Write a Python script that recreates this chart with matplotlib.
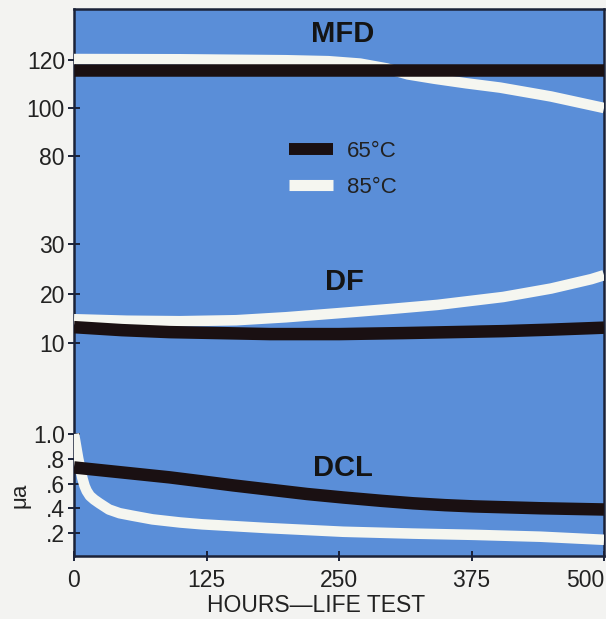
import matplotlib
matplotlib.use("Agg")
import matplotlib.pyplot as plt
from matplotlib.lines import Line2D

# ---------------- data ----------------
x_ticks = [0, 125, 250, 375, 500]
x_label = "HOURS\u2014LIFE TEST"
y_label = "\u03bca"

mfd_ticks = [80, 100, 120]
df_ticks = [10, 20, 30]
dcl_ticks = [0.2, 0.4, 0.6, 0.8, 1.0]
dcl_ticklabels = [".2", ".4", ".6", ".8", "1.0"]

mfd65_h = [0, 125, 250, 375, 500]
mfd65_v = [116, 116, 116, 116, 116]
mfd85_h = [0, 100, 200, 240, 270, 295, 315, 340, 370, 402, 450, 500]
mfd85_v = [120.4, 120.3, 119.9, 119.5, 118.5, 116.5, 114.0, 112.2, 110.3, 108.5, 104.8, 100.0]

df65_h = [0, 45, 90, 185, 250, 310, 405, 450, 488, 500]
df65_v = [13.2, 12.6, 12.2, 11.8, 11.8, 12.0, 12.4, 12.7, 13.0, 13.1]
df85_h = [0, 50, 100, 153, 200, 248, 300, 343, 405, 450, 488, 500]
df85_v = [14.8, 14.5, 14.4, 14.6, 15.2, 16.0, 16.9, 17.7, 19.3, 21.0, 22.9, 23.7]

dcl65_h = [0, 45, 90, 118, 150, 185, 220, 254, 290, 320, 350, 377, 440, 500]
dcl65_v = [0.73, 0.69, 0.65, 0.62, 0.585, 0.55, 0.515, 0.487, 0.46, 0.44, 0.425, 0.415, 0.40, 0.39]
dcl85_h = [0, 2, 4, 6, 8, 10, 12, 15, 19, 24, 33, 43, 55, 74, 100, 121, 182, 254, 320, 377, 440, 500]
dcl85_v = [1.0, 0.9, 0.8, 0.72, 0.64, 0.58, 0.54, 0.50, 0.47, 0.44, 0.39, 0.36, 0.34, 0.31,
           0.285, 0.27, 0.24, 0.21, 0.195, 0.185, 0.17, 0.145]

series_labels = ["65\u00b0C", "85\u00b0C"]
panel_names = ["MFD", "DF", "DCL"]

# ---------------- style ----------------
BLUE = "#5a8ed8"
FRAME = "#1b2238"
BLACK = "#1a1012"
WHITE = "#f5f6f0"
BG = "#f3f3f1"
TXT = "#222222"
FONT = ["Liberation Sans", "DejaVu Sans"]
plt.rcParams["font.family"] = FONT

W, H = 606, 619
fig = plt.figure(figsize=(W / 100, H / 100), dpi=100, facecolor=BG)

def fx(px):
    return px / W

def fy(py):
    return 1 - py / H

left, right, top, bottom = 74, 604, 9, 556

# background frame
bg = fig.add_axes([fx(left), fy(bottom), fx(right) - fx(left), fy(top) - fy(bottom)], zorder=0)
bg.set_facecolor(BLUE)
bg.set_xticks([])
bg.set_yticks([])
for s in bg.spines.values():
    s.set_color(FRAME)
    s.set_linewidth(1.8)
    s.set_zorder(10)

bounds = [(top, 200), (200, 390), (390, bottom)]
ylims = [(61.67, 141.25), (0.505, 38.89), (0.014, 1.356)]
axes = []
for (t, b), yl in zip(bounds, ylims):
    ax = fig.add_axes([fx(left), fy(b), fx(right) - fx(left), (b - t) / H], zorder=1)
    ax.patch.set_visible(False)
    ax.set_xlim(0, 500)
    ax.set_ylim(*yl)
    for s in ax.spines.values():
        s.set_visible(False)
    ax.tick_params(axis="y", direction="inout", length=9, width=1.4, color=FRAME,
                   labelsize=16.5, labelcolor=TXT, pad=2)
    ax.tick_params(axis="x", direction="inout", length=7, width=1.4, color=FRAME,
                   labelsize=16.5, labelcolor=TXT, pad=6)
    axes.append(ax)

ax_mfd, ax_df, ax_dcl = axes
for ax in (ax_mfd, ax_df):
    ax.tick_params(axis="x", bottom=False, labelbottom=False)

ax_mfd.set_yticks(mfd_ticks)
ax_mfd.set_yticklabels([str(v) for v in mfd_ticks])
ax_df.set_yticks(df_ticks)
ax_df.set_yticklabels([str(v) for v in df_ticks])
ax_dcl.set_yticks(dcl_ticks)
ax_dcl.set_yticklabels(dcl_ticklabels)
ax_dcl.set_xticks(x_ticks)
xt = ax_dcl.set_xticklabels([str(v) for v in x_ticks])
xt[-1].set_ha("right")
xt[-1].set_x(xt[-1].get_position()[0])

LW_B = 9.0
LW_W = 7.6
kw = dict(solid_capstyle="butt", solid_joinstyle="round")
for ax, (h85, v85), (h65, v65) in [
    (ax_mfd, (mfd85_h, mfd85_v), (mfd65_h, mfd65_v)),
    (ax_df, (df85_h, df85_v), (df65_h, df65_v)),
    (ax_dcl, (dcl85_h, dcl85_v), (dcl65_h, dcl65_v)),
]:
    ax.plot(h85, v85, color=WHITE, lw=LW_W, zorder=2, **kw)
    ax.plot(h65, v65, color=BLACK, lw=LW_B, zorder=3, **kw)

# panel names
for name, (px, py) in zip(panel_names, [(343, 34), (344, 282), (343, 468)]):
    fig.text(fx(px), fy(py), name, ha="center", va="center", fontsize=21,
             fontweight="bold", color="#141414", zorder=5)

# legend
handles = [Line2D([], [], color=BLACK, lw=8.6, solid_capstyle="butt"),
           Line2D([], [], color=WHITE, lw=8.0, solid_capstyle="butt")]
leg = fig.legend(handles, series_labels, loc="upper left",
                 bbox_to_anchor=(fx(289), fy(141)), frameon=False,
                 fontsize=16, handlelength=2.0, handletextpad=0.6,
                 labelspacing=0.68, borderpad=0, borderaxespad=0)
leg.set_zorder(5)
for t in leg.get_texts():
    t.set_color(TXT)

fig.text(fx(316), fy(605), x_label, ha="center", va="center", fontsize=16.5, color=TXT)
fig.text(fx(20), fy(495), y_label, ha="center", va="center", fontsize=16,
         color=TXT, rotation=90)

fig.savefig("out.png", dpi=100, facecolor=BG)
